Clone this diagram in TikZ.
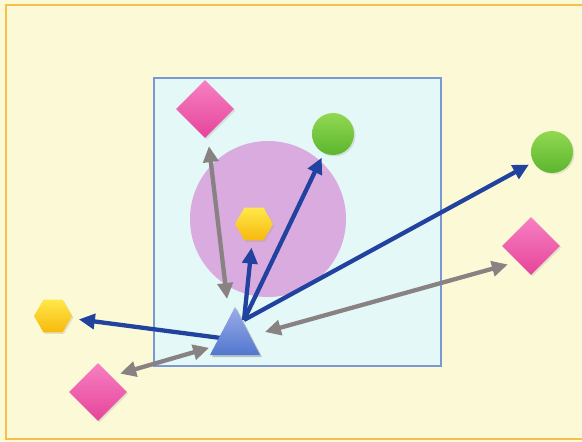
\documentclass[tikz,border=0pt]{standalone}
\usetikzlibrary{arrows.meta, calc, shapes.geometric, shadows}
\definecolor{crema}{HTML}{FCFAD6}
\definecolor{marco}{HTML}{F6C04A}
\definecolor{celeste}{HTML}{E3F8F7}
\definecolor{bordeazul}{HTML}{7A98D6}
\definecolor{lila}{HTML}{D9ABDE}
\definecolor{rosaclaro}{HTML}{F680C2}
\definecolor{rosa}{HTML}{E6449A}
\definecolor{verdeclaro}{HTML}{92D852}
\definecolor{verde}{HTML}{5CB62E}
\definecolor{amarilloclaro}{HTML}{FFE84A}
\definecolor{amarillo}{HTML}{F6B90C}
\definecolor{azulclaro}{HTML}{9CACE8}
\definecolor{azul}{HTML}{5277CF}
\definecolor{flecha}{HTML}{2242A0}
\definecolor{gris}{HTML}{898282}

\begin{document}
\begin{tikzpicture}[x=1pt, y=-1pt, >={Triangle[length=16pt, width=15pt]},
  sombra/.style={drop shadow={shadow xshift=1.5pt, shadow yshift=-1.5pt, fill=black!40, opacity=0.25}},
  rombo/.style={diamond, minimum width=58pt, minimum height=58pt, inner sep=0pt,
    top color=rosaclaro, bottom color=rosa, sombra},
  hexa/.style={regular polygon, regular polygon sides=6, minimum size=38pt, inner sep=0pt,
    top color=amarilloclaro, bottom color=amarillo, sombra},
  bola/.style={circle, minimum size=42pt, inner sep=0pt,
    top color=verdeclaro, bottom color=verde, sombra},
  flechaazul/.style={->, draw=flecha, line width=4.3pt},
  flechagris/.style={<->, draw=gris, line width=4.3pt}]
  \useasboundingbox (0,0) rectangle (582,442);
  % fondo y marco
  \fill[crema] (0,0) rectangle (582,442);
  \draw[marco, line width=1.6pt] (6,5) rectangle (590,439);
  % zona cuadrada y circulo
  \draw[bordeazul, fill=celeste, line width=1.6pt] (154,78) rectangle (441,366);
  \fill[lila] (268,219) circle (78);
  % figuras
  \node[rombo] (dsup) at (205,109) {};
  \node[bola] (vi) at (333,134) {};
  \node[hexa] (hexin) at (254,224) {};
  \node[bola] (vd) at (552,152) {};
  \node[rombo] (dd) at (531,246) {};
  \node[hexa] (hexiz) at (53,316) {};
  \node[rombo] (dbi) at (98,392) {};
  \coordinate (tric) at (236,340);
  \coordinate (fuente) at (244,320);
  % flecha que pasa por debajo del triangulo
  \draw[flechaazul, shorten >=8pt] (tric) -- (hexiz);
  \fill[black, opacity=0.2] (237,309) -- (262,357) -- (212,357) -- cycle;
  \shade[top color=azulclaro, bottom color=azul] (235,307) -- (260,355) -- (210,355) -- cycle;
  % flechas azules
  \draw[flechaazul, shorten >=7pt] (fuente) -- (hexin);
  \draw[flechaazul, shorten >=5pt] (fuente) -- (vi);
  \draw[flechaazul, shorten >=5pt] (fuente) -- (vd);
  % flechas grises
  \draw[flechagris, shorten <=8pt, shorten >=8pt] ($(dsup.south)+(3,0)$) -- ($(tric)+(-8,-33)$);
  \draw[flechagris, shorten <=30pt, shorten >=24pt] (tric) -- ($(dd.center)+(0,12)$);
  \draw[flechagris, shorten <=23pt, shorten >=28pt] ($(dbi.center)+(0,-12)$) -- (tric);
\end{tikzpicture}
\end{document}
